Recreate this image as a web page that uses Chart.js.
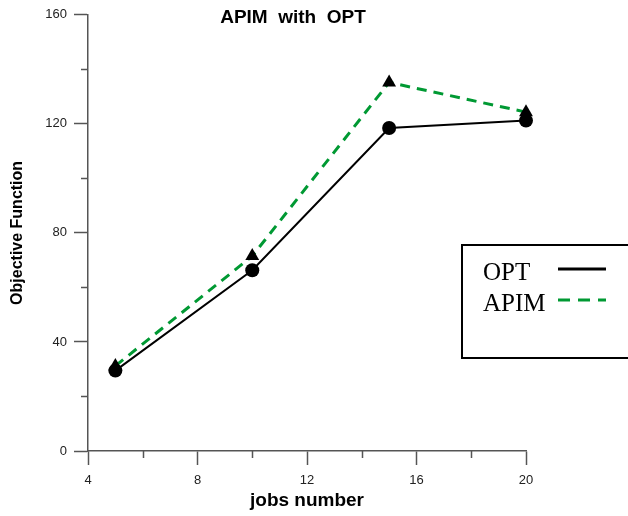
<!DOCTYPE html>
<html>
<head>
<meta charset="utf-8">
<script src="https://cdn.jsdelivr.net/npm/chart.js@4.4.1/dist/chart.umd.min.js"></script>
<style>
  html, body { margin: 0; padding: 0; background: #fff; }
  #wrap { width: 628px; height: 516px; }
</style>
</head>
<body>
<div id="wrap"><canvas id="chart" width="628" height="516"></canvas></div>
<script>
const jobs = [5, 10, 15, 20];
const optValues = [29.5, 66.3, 118.5, 121.2];
const apimValues = [31.2, 71.5, 135.2, 124.3];
const xMinorTicks = [6, 10, 14, 18];
const yMinorTicks = [20, 60, 100, 140];
const chartTitle = "APIM  with  OPT";

const axisColor = "#555";
const sansFont = "'Liberation Sans', Arial, sans-serif";

function toPoints(values) {
  return jobs.map((j, i) => ({ x: j, y: values[i] }));
}

// short ticks between the labelled ones
const minorTicks = {
  id: "minorTicks",
  afterDraw(chart) {
    const { ctx, scales: { x, y } } = chart;
    ctx.save();
    ctx.strokeStyle = axisColor;
    ctx.lineWidth = 1.5;
    ctx.beginPath();
    for (const v of xMinorTicks) {
      const px = Math.round(x.getPixelForValue(v)) + 0.5;
      ctx.moveTo(px, y.bottom);
      ctx.lineTo(px, y.bottom + 7);
    }
    for (const v of yMinorTicks) {
      const py = Math.round(y.getPixelForValue(v)) + 0.5;
      ctx.moveTo(x.left, py);
      ctx.lineTo(x.left - 7, py);
    }
    ctx.stroke();
    ctx.restore();
  }
};

const plotTitle = {
  id: "plotTitle",
  afterDraw(chart) {
    const { ctx } = chart;
    ctx.save();
    ctx.font = "bold 19px " + sansFont;
    ctx.fillStyle = "#000";
    ctx.textAlign = "center";
    ctx.textBaseline = "alphabetic";
    ctx.fillText(chartTitle, 293, 23);
    ctx.restore();
  }
};

// boxed legend: name on the left, line sample on the right
const boxLegend = {
  id: "boxLegend",
  afterDraw(chart) {
    const { ctx } = chart;
    const sets = chart.data.datasets;
    ctx.save();
    ctx.strokeStyle = "#000";
    ctx.lineWidth = 2;
    ctx.strokeRect(462, 245, 200, 113);
    ctx.font = "25px 'Liberation Serif', 'Times New Roman', serif";
    ctx.fillStyle = "#000";
    ctx.textBaseline = "alphabetic";
    sets.forEach((ds, i) => {
      const base = 280 + i * 31;
      ctx.fillText(ds.label, 483, base);
      ctx.beginPath();
      ctx.strokeStyle = ds.borderColor;
      ctx.lineWidth = 3;
      ctx.setLineDash(i === 0 ? [] : [12, 8]);
      ctx.moveTo(558, base - 11);
      ctx.lineTo(606, base - 11);
      ctx.stroke();
    });
    ctx.restore();
  }
};

new Chart(document.getElementById("chart"), {
  type: "line",
  data: {
    datasets: [
      {
        label: "OPT",
        data: toPoints(optValues),
        borderColor: "#000",
        borderWidth: 2,
        pointStyle: "circle",
        pointRadius: 7,
        pointBackgroundColor: "#000",
        pointBorderColor: "#000",
        pointBorderWidth: 0,
        tension: 0,
        clip: false
      },
      {
        label: "APIM",
        data: toPoints(apimValues),
        borderColor: "#009933",
        borderWidth: 3,
        borderDash: [10, 7],
        pointStyle: "triangle",
        pointRadius: 8,
        pointBackgroundColor: "#000",
        pointBorderColor: "#000",
        pointBorderWidth: 0,
        tension: 0,
        clip: false
      }
    ]
  },
  options: {
    responsive: false,
    animation: false,
    events: [],
    layout: { padding: { top: 13, right: 102, bottom: 0, left: 0 } },
    plugins: {
      legend: { display: false },
      tooltip: { enabled: false }
    },
    scales: {
      x: {
        type: "linear",
        min: 4,
        max: 20,
        afterFit(scale) { scale.height = 65; },
        border: { color: axisColor, width: 1.5 },
        grid: { drawOnChartArea: false, tickLength: 14, tickColor: axisColor, tickWidth: 1.5 },
        ticks: { stepSize: 4, padding: 8, color: "#222", font: { family: sansFont, size: 13 } },
        title: {
          display: true,
          text: "jobs number",
          color: "#000",
          padding: { top: 0, bottom: 4 },
          font: { family: sansFont, size: 19, weight: "bold" }
        }
      },
      y: {
        min: 0,
        max: 160,
        afterFit(scale) { scale.width = 88; },
        border: { color: axisColor, width: 1.5 },
        grid: { drawOnChartArea: false, tickLength: 14, tickColor: axisColor, tickWidth: 1.5 },
        ticks: { stepSize: 40, padding: 7, color: "#222", font: { family: sansFont, size: 13 } },
        title: {
          display: true,
          text: "Objective Function",
          color: "#000",
          padding: { top: 8, bottom: 0 },
          font: { family: sansFont, size: 16, weight: "bold" }
        }
      }
    }
  },
  plugins: [minorTicks, plotTitle, boxLegend]
});
</script>
</body>
</html>
